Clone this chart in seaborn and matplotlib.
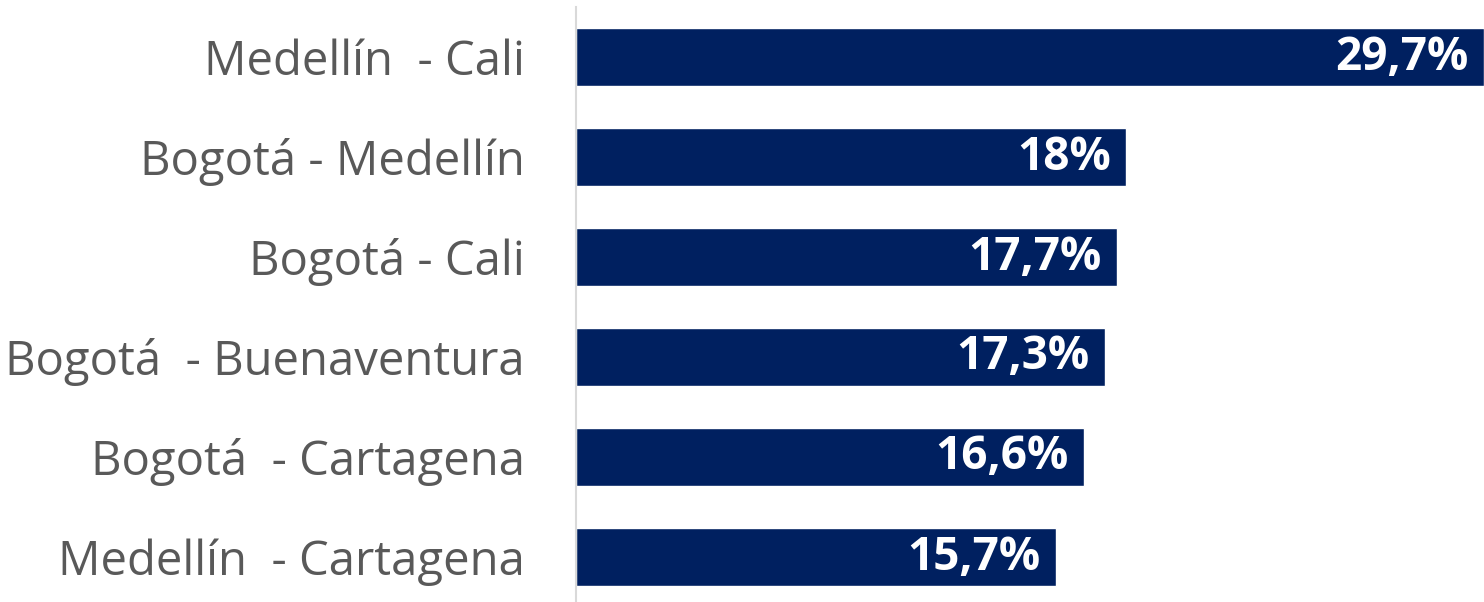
import matplotlib
matplotlib.use("Agg")
import matplotlib.pyplot as plt
import seaborn as sns
import pandas as pd

categories = ["Medellín  - Cali", "Bogotá - Medellín", "Bogotá - Cali",
              "Bogotá  - Buenaventura", "Bogotá  - Cartagena", "Medellín  - Cartagena"]
values = [29.7, 18.0, 17.7, 17.3, 16.6, 15.7]
value_labels = ["29,7%", "18%", "17,7%", "17,3%", "16,6%", "15,7%"]

df = pd.DataFrame({"ruta": categories, "valor": values})

sns.set_theme(style="white")
plt.rcParams['font.family'] = ['Open Sans', 'DejaVu Sans']

fig = plt.figure(figsize=(14.84, 6.02), dpi=100)
ax = fig.add_axes([576/1484, 0, (1484-576)/1484, (602-7)/602])

sns.barplot(data=df, x="valor", y="ruta", orient="h", color="#002060",
            saturation=1, width=0.58, ax=ax)

ax.set_xlim(0, 29.7)
ax.set_ylim(5.45, -0.5)
ax.set_xlabel("")
ax.set_ylabel("")
ax.set_xticks([])
for s in ["top", "right", "bottom"]:
    ax.spines[s].set_visible(False)
ax.spines["left"].set_color("#d9d9d9")
ax.spines["left"].set_linewidth(1.5)
ax.tick_params(axis="y", length=0, pad=37, labelsize=34, labelcolor="#595959")

for i, (v, lab) in enumerate(zip(values, value_labels)):
    ax.text(v - 0.5, i, lab, ha="right", va="center", color="white",
            fontsize=33, fontweight="bold")

fig.savefig("out.png", dpi=100)
